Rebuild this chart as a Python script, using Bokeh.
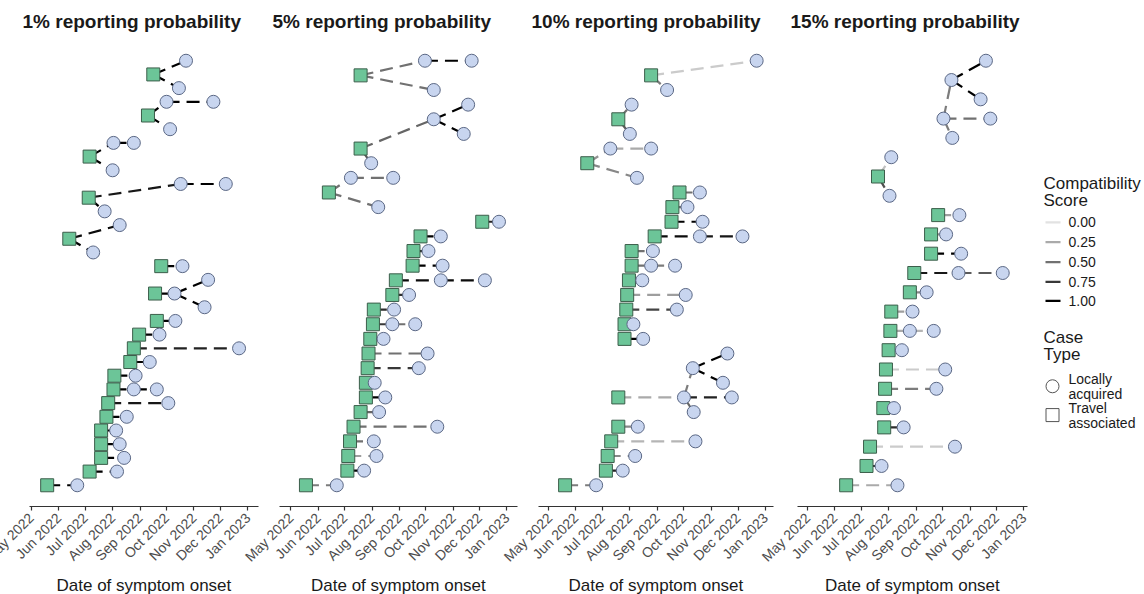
import math
import pandas as pd
from bokeh.plotting import figure
from bokeh.layouts import row
from bokeh.models import (ColumnDataSource, Range1d, FixedTicker, DatetimeTickFormatter,
                          DatetimeAxis, Title)
from bokeh.core.properties import value
from bokeh.embed import file_html
from bokeh.resources import INLINE

FONT = "Liberation Sans"

PANEL_TITLES = ["1% reporting probability", "5% reporting probability",
                "10% reporting probability", "15% reporting probability"]

TICK_DATES = ["2022-05-01", "2022-06-01", "2022-07-01", "2022-08-01", "2022-09-01",
              "2022-10-01", "2022-11-01", "2022-12-01", "2023-01-01"]
TICK_LABELS = ["May 2022", "Jun 2022", "Jul 2022", "Aug 2022", "Sep 2022",
               "Oct 2022", "Nov 2022", "Dec 2022", "Jan 2023"]

SCORE_LEVELS = [0.0, 0.25, 0.5, 0.75, 1.0]
SCORE_LABELS = ["0.00", "0.25", "0.50", "0.75", "1.00"]

# Each panel: onset date, tree row, case type (1 = travel associated),
# index of the infector (-1 = no infector) and the compatibility score of that link.

# 1% reporting probability
P1_ONSET = ["2022-05-19", "2022-06-22", "2022-07-06", "2022-08-06", "2022-07-19", "2022-08-14",
            "2022-07-19", "2022-08-09", "2022-07-19", "2022-08-05", "2022-07-25", "2022-08-17",
            "2022-07-27", "2022-10-03", "2022-08-02", "2022-08-25", "2022-09-20", "2022-08-03",
            "2022-08-27", "2022-08-21", "2022-09-12", "2022-08-25", "2022-12-22", "2022-08-31",
            "2022-09-23", "2022-09-20", "2022-10-11", "2022-09-18", "2022-10-10", "2022-11-17",
            "2022-11-13", "2022-09-25", "2022-10-19", "2022-06-13", "2022-08-09", "2022-07-10",
            "2022-07-05", "2022-10-17", "2022-12-07", "2022-07-23", "2022-07-06", "2022-08-02",
            "2022-08-25", "2022-08-01", "2022-09-10", "2022-10-01", "2022-11-23", "2022-10-05",
            "2022-09-16", "2022-10-23", "2022-10-15"]
P1_ROW = [0, 0, 1, 1, 2, 2, 3, 3, 4, 4, 5, 5, 6, 6, 7, 7, 7, 8, 8, 9, 9, 10, 10, 11, 11, 12, 12,
          14, 14, 15, 13, 16, 16, 18, 19, 17, 21, 22, 22, 20, 24, 25, 25, 23, 27, 28, 28, 26,
          30, 31, 29]
P1_TRAVEL = [1, 0, 1, 0, 1, 0, 1, 0, 1, 0, 1, 0, 1, 0, 1, 0, 0, 1, 0, 1, 0, 1, 0, 1, 0, 1, 0,
             1, 0, 0, 0, 1, 0, 1, 0, 0, 1, 0, 0, 0, 1, 0, 0, 0, 1, 0, 0, 0, 1, 0, 0]
P1_PARENT = [-1, 0, -1, 2, -1, 4, -1, 6, -1, 8, -1, 10, -1, 12, -1, 14, 15, -1, 17, -1, 19, -1, 21,
             -1, 23, -1, 25, -1, 27, 28, 28, -1, 31, -1, 33, 33, -1, 36, 37, 36, -1, 40, 41, 40,
             -1, 44, 45, 44, -1, 48, 48]
P1_SCORE = [None, 1.0, None, 1.0, None, 1.0, None, 1.0, None, 1.0, None, 1.0, None, 0.9, None, 1.0,
            1.0, None, 1.0, None, 1.0, None, 0.85, None, 1.0, None, 1.0, None, 1.0, 1.0, 1.0, None,
            1.0, None, 0.95, 1.0, None, 0.9, 1.0, 1.0, None, 1.0, 1.0, 1.0, None, 1.0, 1.0, 1.0,
            None, 1.0, 1.0]

# 5% reporting probability
P2_ONSET = ["2022-05-18", "2022-06-22", "2022-07-04", "2022-07-23", "2022-07-05", "2022-08-06",
            "2022-07-07", "2022-08-03", "2022-07-11", "2022-10-14", "2022-07-19", "2022-08-09",
            "2022-07-25", "2022-08-16", "2022-07-25", "2022-08-04", "2022-07-27", "2022-09-23",
            "2022-07-28", "2022-10-03", "2022-07-30", "2022-08-14", "2022-08-02", "2022-08-24",
            "2022-09-19", "2022-08-03", "2022-08-26", "2022-08-24", "2022-09-12", "2022-08-28",
            "2022-10-18", "2022-12-07", "2022-09-16", "2022-10-20", "2022-09-17", "2022-10-04",
            "2022-09-25", "2022-10-18", "2022-12-04", "2022-12-23", "2022-06-13", "2022-08-08",
            "2022-07-08", "2022-08-25", "2022-07-19", "2022-07-31", "2022-10-10", "2022-11-13",
            "2022-11-18", "2022-07-19", "2022-10-10", "2022-09-30", "2022-11-22"]
P2_ROW = [0, 0, 1, 1, 2, 2, 3, 3, 4, 4, 5, 5, 6, 6, 7, 7, 8, 8, 9, 9, 10, 10, 11, 11, 11, 12, 12,
          13, 13, 14, 14, 14, 15, 15, 16, 16, 17, 17, 18, 18, 20, 19, 21, 21, 23, 22, 25, 24, 26,
          28, 27, 29, 29]
P2_TRAVEL = [1, 0, 1, 0, 1, 0, 1, 0, 1, 0, 1, 0, 1, 0, 1, 0, 1, 0, 1, 0, 1, 0, 1, 0, 0, 1, 0,
             1, 0, 1, 0, 0, 1, 0, 1, 0, 1, 0, 1, 0, 1, 0, 0, 0, 1, 0, 0, 0, 0, 1, 0, 0, 0]
P2_PARENT = [-1, 0, -1, 2, -1, 4, -1, 6, -1, 8, -1, 10, -1, 12, -1, 14, -1, 16, -1, 18, -1, 20,
             -1, 22, 23, -1, 25, -1, 27, -1, 29, 30, -1, 32, -1, 34, -1, 36, -1, 38, -1, 40, 40,
             42, -1, 44, 44, 46, 46, -1, 49, 49, 51]
P2_SCORE = [None, 0.45, None, 1.0, None, 0.3, None, 0.5, None, 0.5, None, 0.55, None, 1.0, None,
            1.0, None, 0.75, None, 0.5, None, 1.0, None, 0.75, 0.5, None, 0.8, None, 0.8, None,
            0.95, 0.95, None, 1.0, None, 0.85, None, 1.0, None, 0.85, None, 0.5, 0.5, 0.5, None,
            0.6, 0.55, 1.0, 1.0, None, 0.5, 0.5, 1.0]

# 10% reporting probability
P3_ONSET = ["2022-05-20", "2022-06-24", "2022-07-05", "2022-07-24", "2022-07-07", "2022-08-07",
            "2022-07-11", "2022-10-14", "2022-07-19", "2022-08-10", "2022-07-19", "2022-10-01",
            "2022-11-24", "2022-10-12", "2022-10-11", "2022-11-19", "2022-11-14", "2022-07-26",
            "2022-08-16", "2022-07-26", "2022-08-05", "2022-07-28", "2022-09-23", "2022-07-29",
            "2022-10-03", "2022-07-31", "2022-08-15", "2022-08-03", "2022-08-25", "2022-09-21",
            "2022-08-03", "2022-08-27", "2022-08-29", "2022-10-19", "2022-12-06", "2022-09-17",
            "2022-10-22", "2022-09-18", "2022-10-05", "2022-09-26", "2022-10-19", "2022-06-14",
            "2022-08-09", "2022-07-10", "2022-08-25", "2022-07-19", "2022-08-01", "2022-08-03",
            "2022-08-25", "2022-09-12", "2022-12-22"]
P3_ROW = [0, 0, 1, 1, 2, 2, 3, 3, 4, 4, 6, 6, 6, 5, 8, 9, 7, 10, 10, 11, 11, 12, 12, 13, 13, 14,
          14, 15, 15, 15, 16, 16, 17, 17, 17, 18, 18, 19, 19, 20, 20, 22, 21, 23, 23, 25, 24, 26,
          28, 27, 29]
P3_TRAVEL = [1, 0, 1, 0, 1, 0, 1, 0, 1, 0, 1, 0, 0, 0, 0, 0, 0, 1, 0, 1, 0, 1, 0, 1, 0, 1, 0,
             1, 0, 0, 1, 0, 1, 0, 0, 1, 0, 1, 0, 1, 0, 1, 0, 0, 0, 1, 0, 0, 1, 0, 0]
P3_PARENT = [-1, 0, -1, 2, -1, 4, -1, 6, -1, 8, -1, 10, 11, 11, 11, 14, 14, -1, 17, -1, 19, -1,
             21, -1, 23, -1, 25, -1, 27, 28, -1, 30, -1, 32, 33, -1, 35, -1, 37, -1, 39, -1, 41,
             41, 43, -1, 45, 45, -1, 48, 48]
P3_SCORE = [None, 0.45, None, 0.85, None, 0.4, None, 0.2, None, 0.4, None, 0.25, 0.85, 0.55, 0.45,
            1.0, 1.0, None, 1.0, None, 0.5, None, 0.7, None, 0.3, None, 0.5, None, 0.5, 0.45, None,
            0.5, None, 0.95, 0.9, None, 1.0, None, 0.5, None, 0.5, None, 0.4, 0.35, 0.25, None,
            0.6, 0.5, None, 0.45, 0.1]

# 15% reporting probability
P4_ONSET = ["2022-06-14", "2022-08-11", "2022-07-07", "2022-07-24", "2022-07-11", "2022-10-15",
            "2022-07-27", "2022-08-18", "2022-07-26", "2022-08-07", "2022-07-28", "2022-09-24",
            "2022-07-29", "2022-10-04", "2022-08-01", "2022-08-16", "2022-08-03", "2022-08-25",
            "2022-09-21", "2022-08-04", "2022-08-28", "2022-08-25", "2022-09-13", "2022-08-30",
            "2022-10-19", "2022-12-08", "2022-09-18", "2022-10-22", "2022-09-18", "2022-10-05",
            "2022-09-26", "2022-10-20", "2022-07-20", "2022-08-02", "2022-08-04", "2022-10-02",
            "2022-11-24", "2022-10-11", "2022-10-12", "2022-11-13", "2022-11-19"]
P4_ROW = [0, 0, 1, 1, 2, 2, 3, 3, 4, 4, 5, 5, 6, 6, 7, 7, 8, 8, 8, 9, 9, 10, 10, 11, 11, 11,
          12, 12, 13, 13, 14, 14, 16, 15, 17, 19, 19, 21, 18, 20, 22]
P4_TRAVEL = [1, 0, 1, 0, 1, 0, 1, 0, 1, 0, 1, 0, 1, 0, 1, 0, 1, 0, 0, 1, 0, 1, 0, 1, 0, 0,
             1, 0, 1, 0, 1, 0, 1, 0, 0, 0, 0, 0, 0, 0, 0]
P4_PARENT = [-1, 0, -1, 2, -1, 4, -1, 6, -1, 8, -1, 10, -1, 12, -1, 14, -1, 16, 17, -1, 19, -1,
             21, -1, 23, 24, -1, 26, -1, 28, -1, 30, -1, 32, 32, -1, 35, 35, 35, 37, 37]
P4_SCORE = [None, 0.25, None, 0.8, None, 0.1, None, 0.8, None, 0.5, None, 0.45, None, 0.1, None,
            0.5, None, 0.25, 0.2, None, 0.3, None, 0.4, None, 0.9, 0.6, None, 1.0, None, 0.4,
            None, 0.3, None, 0.65, 0.15, None, 0.5, 0.45, 0.45, 1.0, 1.0]

PANELS = [
    (P1_ONSET, P1_ROW, P1_TRAVEL, P1_PARENT, P1_SCORE),
    (P2_ONSET, P2_ROW, P2_TRAVEL, P2_PARENT, P2_SCORE),
    (P3_ONSET, P3_ROW, P3_TRAVEL, P3_PARENT, P3_SCORE),
    (P4_ONSET, P4_ROW, P4_TRAVEL, P4_PARENT, P4_SCORE),
]

# Panel geometry. Each canvas overlaps its left neighbour (negative margin) so that the
# rotated month labels can spill to the left; the plotting frame starts at the canvas
# edge and the axis line only covers the date window [WIN_START, WIN_END].
WIN_START = ["2022-04-29", "2022-04-18", "2022-04-20", "2022-04-20"]
WIN_END = ["2023-01-13", "2023-01-13", "2023-01-10", "2023-01-05"]
OVERLAP = [20, 20, 20, 20]
FIG_WIDTH = [280, 280, 278, 278]
WIN_LEFT = [49, 39, 38, 39]        # px from canvas edge to the start of the date window
BORDER_RIGHT = [2, 3, 5, 9]
FIG_HEIGHT = 594
FRAME_TOP, FRAME_BOTTOM = 38, 508
AXIS_TITLE_WIDTH = 175             # approx. rendered width of the x-axis title

TRAVEL_FILL, TRAVEL_LINE = "#6cc598", "#3c5e4b"
LOCAL_FILL, LOCAL_LINE = "#c8d5ef", "#5b6885"
EDGE_DASH = "13 7"
EDGE_WIDTH = 2.2
TEXT_DARK = "#1a1a1a"


def grey_for(score):
    g = int(round(226 * (1.0 - score)))
    return "#{0:02x}{0:02x}{0:02x}".format(g)


tick_ms = [int(pd.Timestamp(d).timestamp() * 1000) for d in TICK_DATES]


def make_panel(i):
    onset, rows, travel, parent, score = PANELS[i]
    dates = list(pd.to_datetime(onset))
    top = max(rows)

    w_start, w_end = pd.Timestamp(WIN_START[i]), pd.Timestamp(WIN_END[i])
    frame_w = FIG_WIDTH[i] - BORDER_RIGHT[i]
    win_px = frame_w - WIN_LEFT[i]
    px_per_day = win_px / ((w_end - w_start) / pd.Timedelta(days=1))
    x_start = w_start - pd.Timedelta(days=WIN_LEFT[i] / px_per_day)

    p = figure(width=FIG_WIDTH[i], height=FIG_HEIGHT, x_axis_type="datetime",
               x_range=Range1d(x_start, w_end),
               y_range=Range1d(-0.05 * top, 1.05 * top),
               y_axis_location=None, output_backend="svg", toolbar_location=None,
               min_border_left=0, min_border_right=BORDER_RIGHT[i],
               min_border_top=FRAME_TOP, min_border_bottom=FIG_HEIGHT - FRAME_BOTTOM,
               margin=(0, 0, 0, -OVERLAP[i]))
    p.outline_line_color = None
    p.border_fill_color = None
    p.background_fill_color = None
    p.xgrid.visible = False
    p.ygrid.visible = False

    p.title.text = PANEL_TITLES[i]
    p.title.text_font = FONT
    p.title.text_font_size = "19px"
    p.title.text_font_style = "bold"
    p.title.text_color = TEXT_DARK
    p.title.align = "left"
    p.title.offset = WIN_LEFT[i] - 7
    p.title.standoff = 16

    # transmission links
    e = dict(x0=[], y0=[], x1=[], y1=[], color=[])
    for k, par in enumerate(parent):
        if par < 0:
            continue
        e["x0"].append(dates[par])
        e["y0"].append(rows[par])
        e["x1"].append(dates[k])
        e["y1"].append(rows[k])
        e["color"].append(grey_for(score[k]))
    p.segment(x0="x0", y0="y0", x1="x1", y1="y1", source=ColumnDataSource(e),
              line_color="color", line_width=EDGE_WIDTH, line_dash=EDGE_DASH, line_cap="butt")

    # cases
    tr = dict(x=[d for d, t in zip(dates, travel) if t], y=[r for r, t in zip(rows, travel) if t])
    lo = dict(x=[d for d, t in zip(dates, travel) if not t], y=[r for r, t in zip(rows, travel) if not t])
    p.scatter(x="x", y="y", source=ColumnDataSource(tr), marker="square", size=13,
              fill_color=TRAVEL_FILL, line_color=TRAVEL_LINE, line_width=1)
    p.scatter(x="x", y="y", source=ColumnDataSource(lo), marker="circle", size=13,
              fill_color=LOCAL_FILL, line_color=LOCAL_LINE, line_width=1)

    # axis line and month ticks, limited to the date window
    ax = p.xaxis[0]
    ax.bounds = (w_start, w_end)
    ax.ticker = FixedTicker(ticks=tick_ms, minor_ticks=[])
    ax.major_label_text_alpha = 0
    ax.major_label_standoff = 0
    ax.axis_line_color = "#333333"
    ax.axis_line_width = 1.2
    ax.major_tick_line_color = "#333333"
    ax.major_tick_line_width = 1.2
    ax.major_tick_out = 4
    ax.major_tick_in = 0
    ax.minor_tick_out = 0
    ax.minor_tick_in = 0

    # rotated month labels
    lab = DatetimeAxis(ticker=FixedTicker(ticks=tick_ms, minor_ticks=[]),
                       formatter=DatetimeTickFormatter(days="%b %Y", months="%b %Y", years="%b %Y"),
                       major_label_overrides=dict(zip(tick_ms, TICK_LABELS)),
                       major_label_orientation=math.pi / 4,
                       major_label_text_font=FONT, major_label_text_font_size="14px",
                       major_label_text_color="#4d4d4d", major_label_standoff=5,
                       axis_line_color=None, major_tick_line_color=None,
                       minor_tick_line_color=None, major_tick_out=0, major_tick_in=0,
                       minor_tick_out=0, minor_tick_in=0)
    p.add_layout(lab, "below")

    # x-axis title, centred under the date window
    p.add_layout(Title(text="Date of symptom onset", align="left",
                       offset=WIN_LEFT[i] + (win_px - AXIS_TITLE_WIDTH) / 2,
                       text_font=FONT, text_font_size="17px", text_font_style="normal",
                       text_color=TEXT_DARK, standoff=0), "below")
    return p


panels = [make_panel(i) for i in range(4)]

# legend column (y in page pixels)
leg = figure(width=108, height=FIG_HEIGHT, x_range=Range1d(0, 108),
             y_range=Range1d(FRAME_BOTTOM, FRAME_TOP),
             x_axis_location=None, y_axis_location=None, output_backend="svg",
             toolbar_location=None, min_border_left=0, min_border_right=0,
             min_border_top=FRAME_TOP, min_border_bottom=FIG_HEIGHT - FRAME_BOTTOM)
leg.outline_line_color = None
leg.xgrid.visible = False
leg.ygrid.visible = False

leg.text(x=[7, 7], y=[183, 200], text=["Compatibility", "Score"], text_font=value(FONT),
         text_font_size="17px", text_baseline="middle", text_color=TEXT_DARK)
key_y = [222, 242, 262, 282, 301]
leg.segment(x0=[9] * 5, x1=[24] * 5, y0=key_y, y1=key_y,
            line_color=[grey_for(s) for s in SCORE_LEVELS], line_width=EDGE_WIDTH)
leg.text(x=[32] * 5, y=key_y, text=SCORE_LABELS, text_font=value(FONT),
         text_font_size="14px", text_baseline="middle", text_color=TEXT_DARK)

leg.text(x=[7, 7], y=[338, 355], text=["Case", "Type"], text_font=value(FONT),
         text_font_size="17px", text_baseline="middle", text_color=TEXT_DARK)
leg.scatter(x=[16], y=[387], marker="circle", size=13, fill_color="white",
            line_color="#555555", line_width=1)
leg.scatter(x=[16], y=[416], marker="square", size=13, fill_color="white",
            line_color="#555555", line_width=1)
leg.text(x=[32, 32, 32, 32], y=[380, 395, 409, 424],
         text=["Locally", "acquired", "Travel", "associated"], text_font=value(FONT),
         text_font_size="14px", text_baseline="middle", text_color=TEXT_DARK)

layout = row(*panels, leg)
open("out.html", "w").write(file_html(layout, INLINE))
